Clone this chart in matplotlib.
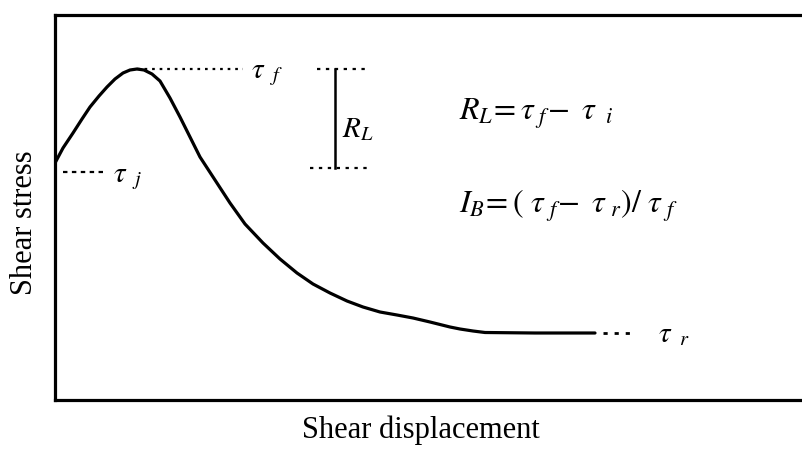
import matplotlib
matplotlib.use("Agg")
import matplotlib.pyplot as plt

plt.rcParams["mathtext.fontset"] = "stix"
plt.rcParams["font.family"] = ["Liberation Serif", "DejaVu Serif"]

# curve (x = displacement, y = stress, arbitrary units)
desloc = [0, 8, 18, 27, 35, 44, 52, 60, 68, 75, 82, 89, 97, 105, 115, 125,
          135, 145, 160, 175, 190, 208, 225, 242, 258, 275, 292, 308, 325,
          342, 358, 375, 385, 395, 405, 418, 430, 480, 540]
tensao = [237, 252, 267, 281, 293, 304, 313, 321, 327, 330, 331, 330, 326,
          319, 302, 283, 263, 243, 220, 197, 176, 157, 141, 127, 116, 107,
          99, 93, 88, 85, 82, 78, 75.5, 73, 71, 69, 67.5, 67, 67]

tau_f = 331
tau_i = 232
tau_r = 67

fig = plt.figure(figsize=(8.03, 4.54), dpi=100)
ax = fig.add_axes([55 / 803, 54 / 454, 748 / 803, 385 / 454])
ax.set_xlim(0, 748)
ax.set_ylim(0, 385)

ax.plot(desloc, tensao, color="black", lw=2.3, solid_capstyle="round")

# linhas auxiliares
ax.plot([82, 188], [tau_f, tau_f], color="black", lw=1.6, ls=(0, (1.2, 2.2)))
ax.plot([8, 48], [tau_i - 4, tau_i - 4], color="black", lw=1.6, ls=(0, (2, 2)))
ax.plot([548, 577], [tau_r, tau_r], color="black", lw=2, ls=(0, (1.5, 2.5)))
ax.plot([262, 310], [tau_f, tau_f], color="black", lw=1.6, ls=(0, (1.5, 2.5)))
ax.plot([255, 313], [tau_i, tau_i], color="black", lw=1.6, ls=(0, (1.5, 2.5)))
ax.plot([280, 280], [tau_i, tau_f], color="black", lw=1.8)

fs = 21
ax.text(196, tau_f - 9, r"$\tau_{\ \ f}$", fontsize=fs, va="baseline")
ax.text(58, tau_i - 14, r"$\tau_{\ \ j}$", fontsize=fs, va="baseline")
ax.text(603, tau_r - 9, r"$\tau_{\ \ r}$", fontsize=fs, va="baseline")
ax.text(287, 263, r"$R_L$", fontsize=fs, va="baseline")
ax.text(404, 280, r"$R_L\!=\tau_{\ f}\!-\ \tau_{\ \ i}$", fontsize=23, va="baseline")
ax.text(404, 187, r"$I_B\!=(\ \tau_{\ f}\!-\ \tau_{\ r})/\ \tau_{\ f}$", fontsize=23, va="baseline")

ax.set_xticks([])
ax.set_yticks([])
ax.spines["right"].set_visible(False)
for s in ["left", "bottom", "top"]:
    ax.spines[s].set_linewidth(2.3)

ax.set_xlabel("Shear displacement", fontsize=22)
ax.set_ylabel("Shear stress", fontsize=22)
ax.xaxis.set_label_coords(0.489, -0.04)
ax.yaxis.set_label_coords(-0.022, 0.46)

fig.savefig("out.png", dpi=100)
